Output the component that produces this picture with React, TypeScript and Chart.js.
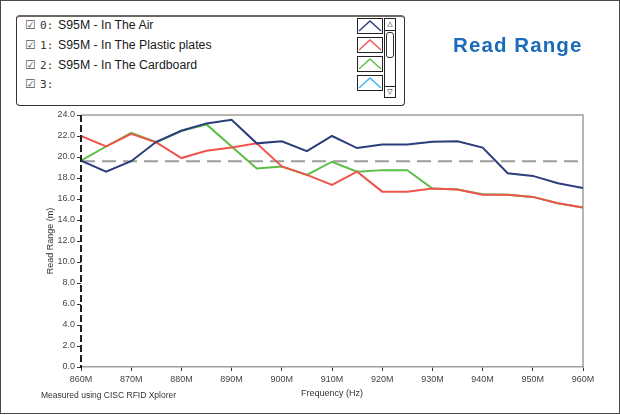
import React, { useEffect, useRef } from "react";
import { Chart, registerables } from "chart.js";

Chart.register(...registerables);

// ---- data ----
const frequencies = [860, 865, 870, 875, 880, 885, 890, 895, 900, 905, 910, 915, 920, 925, 930, 935, 940, 945, 950, 955, 960];
const airValues = [19.65, 18.6, 19.6, 21.45, 22.5, 23.2, 23.55, 21.3, 21.5, 20.55, 22.0, 20.85, 21.2, 21.2, 21.45, 21.5, 20.9, 18.45, 18.2, 17.5, 17.05];
const plasticValues = [22.0, 21.0, 22.2, 21.4, 19.9, 20.6, 20.9, 21.3, 19.1, 18.3, 17.35, 18.6, 16.7, 16.7, 17.0, 16.9, 16.4, 16.4, 16.2, 15.6, 15.2];
const cardboardValues = [19.65, 21.0, 22.3, 21.4, 22.5, 23.1, 21.0, 18.9, 19.1, 18.3, 19.55, 18.6, 18.75, 18.75, 17.0, 16.9, 16.45, 16.4, 16.2, 15.6, 15.2];
const referenceLevel = 19.6;
const seriesNames = ["S95M - In The Air", "S95M - In The Plastic plates", "S95M - In The Cardboard", ""];
const seriesColors = ["#2b3d7c", "#f0554d", "#5cbd45", "#3fb2ea"];
const xMin = 860;
const xMax = 960;
const xStep = 10;
const yMin = 0;
const yMax = 24;
const yStep = 2;

const FONT = "'Liberation Sans', Arial, sans-serif";

const framePlugin = {
  id: "frame",
  beforeDatasetsDraw(chart: any) {
    const { ctx, chartArea } = chart;
    ctx.save();
    ctx.strokeStyle = "#a39d98";
    ctx.lineWidth = 1.5;
    ctx.beginPath();
    ctx.moveTo(chartArea.left, chartArea.top);
    ctx.lineTo(chartArea.right, chartArea.top);
    ctx.lineTo(chartArea.right, chartArea.bottom);
    ctx.stroke();
    ctx.restore();
  },
  afterDatasetsDraw(chart: any) {
    const { ctx, chartArea } = chart;
    ctx.save();
    ctx.strokeStyle = "#1e1e1e";
    ctx.lineWidth = 2;
    ctx.setLineDash([7, 3]);
    ctx.beginPath();
    ctx.moveTo(chartArea.left, chartArea.top);
    ctx.lineTo(chartArea.left, chartArea.bottom + 1);
    ctx.stroke();
    ctx.restore();
  },
};

function toPoints(values: number[]) {
  return values.map((v, i) => ({ x: frequencies[i], y: v }));
}

function Swatch({ color }: { color: string }) {
  return (
    <svg width="26" height="16" style={{ display: "block" }}>
      <rect x="0.5" y="0.5" width="25" height="15" fill="#fff" stroke="#222" strokeWidth="1" />
      <polyline points="2,13 13,3 24,13" fill="none" stroke={color} strokeWidth="1.4" />
    </svg>
  );
}

export default function App() {
  const canvasRef = useRef<HTMLCanvasElement | null>(null);

  useEffect(() => {
    if (!canvasRef.current) return;
    const lineBase = { pointRadius: 0, borderWidth: 2, tension: 0, fill: false };
    const chart = new Chart(canvasRef.current, {
      type: "line",
      data: {
        datasets: [
          { ...lineBase, label: seriesNames[0], data: toPoints(airValues), borderColor: seriesColors[0] },
          { ...lineBase, label: seriesNames[1], data: toPoints(plasticValues), borderColor: seriesColors[1] },
          { ...lineBase, label: seriesNames[2], data: toPoints(cardboardValues), borderColor: seriesColors[2] },
          {
            ...lineBase,
            label: "reference",
            data: [
              { x: xMin, y: referenceLevel },
              { x: xMax, y: referenceLevel },
            ],
            borderColor: "#9c9c9c",
            borderDash: [14, 7],
          },
        ],
      },
      options: {
        responsive: false,
        animation: false,
        layout: { padding: { left: 41, right: 37, top: 115, bottom: 12 } },
        plugins: { legend: { display: false }, tooltip: { enabled: false }, title: { display: false } },
        scales: {
          x: {
            type: "linear",
            min: xMin,
            max: xMax,
            afterFit: (s: any) => {
              s.height = 36;
            },
            ticks: {
              stepSize: xStep,
              padding: 3,
              color: "#444",
              font: { family: FONT, size: 9 },
              callback: (v: any) => `${v}M`,
              maxRotation: 0,
            },
            grid: { drawOnChartArea: false, drawTicks: true, tickLength: 4, tickColor: "#333" },
            border: { color: "#a39d98", width: 1.5 },
            title: { display: true, text: "Frequency (Hz)", color: "#333", font: { family: FONT, size: 9 } },
          },
          y: {
            min: yMin,
            max: yMax,
            afterFit: (s: any) => {
              s.width = 40;
            },
            ticks: {
              stepSize: yStep,
              padding: 2,
              color: "#444",
              font: { family: FONT, size: 9 },
              callback: (v: any) => Number(v).toFixed(1),
            },
            grid: { drawOnChartArea: false, drawTicks: true, tickLength: 4, tickColor: "#333" },
            border: { display: false },
            title: { display: true, text: "Read Range (m)", color: "#333", font: { family: FONT, size: 9 } },
          },
        },
      },
      plugins: [framePlugin],
    } as any);
    return () => chart.destroy();
  }, []);

  const rowCenters = [25, 45, 65, 84];

  return (
    <div style={{ position: "absolute", left: 0, top: 0, width: 620, height: 415, background: "#fff", overflow: "hidden" }}>
      <canvas ref={canvasRef} width={620} height={415} style={{ position: "absolute", left: 0, top: 0, width: 620, height: 415 }} />
      {/* outer frame */}
      <div style={{ position: "absolute", left: 0, top: 0, width: 620, height: 414, boxSizing: "border-box", border: "1px solid #4a4a4a", pointerEvents: "none" }} />
      {/* legend box */}
      <div
        style={{
          position: "absolute",
          left: 16,
          top: 15,
          width: 389,
          height: 91,
          boxSizing: "border-box",
          border: "1px solid #333",
          borderTop: "2px solid #6e6661",
          borderRadius: 4,
          background: "#fff",
        }}
      />
      {seriesNames.map((name, i) => (
        <div
          key={i}
          style={{
            position: "absolute",
            left: 25,
            top: rowCenters[i] - 8,
            height: 16,
            display: "flex",
            alignItems: "center",
            whiteSpace: "nowrap",
          }}
        >
          <span style={{ fontFamily: "'DejaVu Sans', sans-serif", fontSize: 12, color: "#555", width: 15 }}>☑</span>
          <span style={{ fontFamily: "'DejaVu Sans Mono', monospace", fontSize: 11, color: "#333", width: 18 }}>{i}:</span>
          <span style={{ fontFamily: FONT, fontSize: 12.3, color: "#1a1a1a" }}>{name}</span>
        </div>
      ))}
      {seriesColors.map((c, i) => (
        <div key={i} style={{ position: "absolute", left: 357, top: [18, 37, 56, 75][i] }}>
          <Swatch color={c} />
        </div>
      ))}
      {/* scrollbar */}
      <div style={{ position: "absolute", left: 384, top: 18, width: 12, height: 80, boxSizing: "border-box", border: "1px solid #222", background: "#fff" }}>
        <div style={{ height: 11, borderBottom: "1px solid #222", fontSize: 7, lineHeight: "11px", textAlign: "center", fontFamily: "'DejaVu Sans', sans-serif" }}>△</div>
        <div style={{ position: "absolute", left: 1, top: 13, width: 8, height: 26, boxSizing: "border-box", border: "1px solid #333", borderRadius: 3 }} />
        <div style={{ position: "absolute", left: 0, bottom: 0, width: 10, height: 10, borderTop: "1px solid #222", fontSize: 7, lineHeight: "10px", textAlign: "center", fontFamily: "'DejaVu Sans', sans-serif" }}>▽</div>
      </div>
      {/* title */}
      <div
        style={{
          position: "absolute",
          left: 453,
          top: 35,
          fontFamily: FONT,
          fontWeight: "bold",
          fontSize: 20.5,
          lineHeight: "20px",
          letterSpacing: 1.1,
          color: "#1b6cb8",
          whiteSpace: "nowrap",
        }}
      >
        Read Range
      </div>
      {/* footnote */}
      <div
        style={{
          position: "absolute",
          left: 41,
          top: 389,
          fontFamily: FONT,
          fontSize: 8.5,
          lineHeight: "12px",
          color: "#333",
          whiteSpace: "nowrap",
        }}
      >
        Measured using CISC RFID Xplorer
      </div>
    </div>
  );
}
